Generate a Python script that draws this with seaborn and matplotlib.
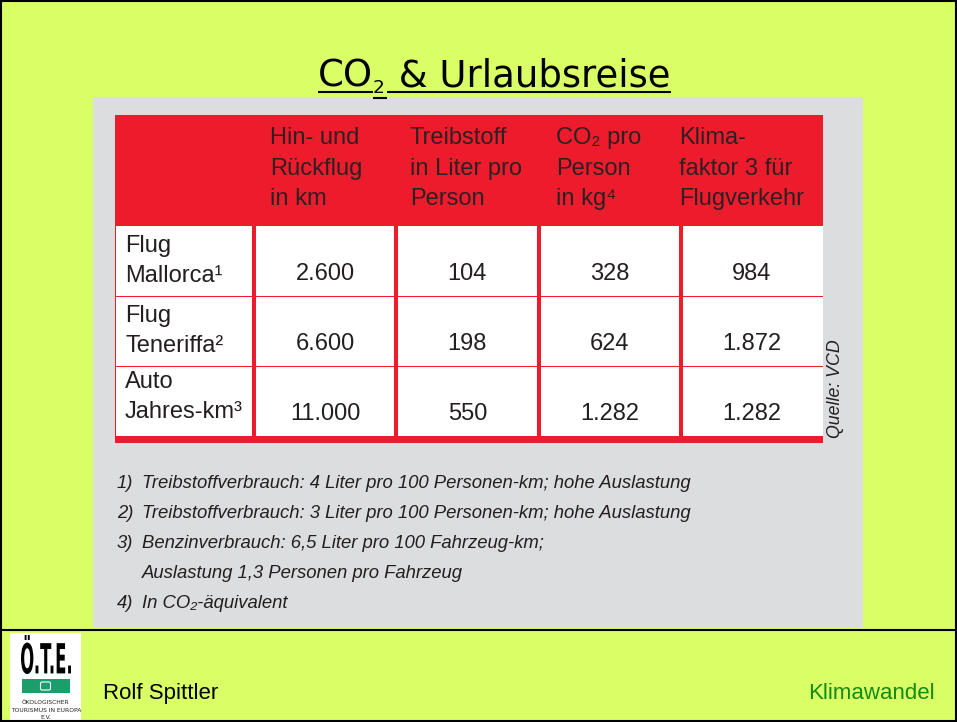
import matplotlib
matplotlib.use("Agg")
import matplotlib.pyplot as plt
import numpy as np
import pandas as pd
import seaborn as sns
from matplotlib.colors import ListedColormap
from matplotlib.patches import Rectangle, PathPatch, FancyBboxPatch
from matplotlib.textpath import TextPath
from matplotlib.font_manager import FontProperties
from matplotlib.transforms import Affine2D

# ---------------- data ----------------
title_parts = ["CO", "2", " & Urlaubsreise"]
col_headers = [
    ["Hin- und", "Rückflug", "in km"],
    ["Treibstoff", "in Liter pro", "Person"],
    ["CO\u2082 pro", "Person", "in kg\u2074"],
    ["Klima-", "faktor 3 für", "Flugverkehr"],
]
row_label_top = ["Flug", "Flug", "Auto"]
row_label_bottom = ["Mallorca\u00b9", "Teneriffa\u00b2", "Jahres-km\u00b3"]
distance_km = [2600, 6600, 11000]
fuel_litre = [104, 198, 550]
co2_kg = [328, 624, 1282]
klima_factor3 = [984, 1872, 1282]
footnote_nums = ["1)", "2)", "3)", "", "4)"]
footnote_texts = [
    "Treibstoffverbrauch: 4 Liter pro 100 Personen-km; hohe Auslastung",
    "Treibstoffverbrauch: 3 Liter pro 100 Personen-km; hohe Auslastung",
    "Benzinverbrauch: 6,5 Liter pro 100 Fahrzeug-km;",
    "Auslastung 1,3 Personen pro Fahrzeug",
    "In CO\u2082-äquivalent",
]
source_text = "Quelle: VCD"
author_text = "Rolf Spittler"
topic_text = "Klimawandel"

# ---------------- style ----------------
sns.set_theme(style="white")
plt.rcParams["font.family"] = ["Liberation Sans", "DejaVu Sans"]

LIME = "#daff66"
GRAY = "#dcddde"
RED = "#ec1c2d"
DARK = "#231f20"
HEAD = "#2e2022"
GREEN = "#148c14"
FAM = ["Liberation Sans", "DejaVu Sans"]

W, H = 957, 722
fig = plt.figure(figsize=(W / 100, H / 100), dpi=100)
fig.patch.set_facecolor(LIME)

bg = fig.add_axes([0, 0, 1, 1])
bg.set_xlim(0, W)
bg.set_ylim(H, 0)
bg.axis("off")

# gray panel and red table base
bg.add_patch(Rectangle((93, 97), 770, 531, fc=GRAY, ec="none"))
bg.add_patch(Rectangle((115, 115), 708, 328, fc=RED, ec="none"))
bg.add_patch(Rectangle((116, 226), 138, 210, fc="white", ec="none"))
for yy in (296, 366):
    bg.plot([116, 254], [yy, yy], color=RED, lw=0.75)

# title (CO + lowered 2 + rest), fitted to reference width
fig.canvas.draw()
r = fig.canvas.get_renderer()


def draw_title(fs):
    x = 318.0
    arts, spans = [], []
    for i, part in enumerate(title_parts):
        sub = (i == 1)
        tt = bg.text(x, 86.7 + (6.3 if sub else 0), part, ha="left", va="baseline",
                     fontsize=fs * (0.5 if sub else 1.0), family=["DejaVu Sans"],
                     color="black")
        w = tt.get_window_extent(r).width
        spans.append((x, x + w, sub))
        arts.append(tt)
        x += w + (2 if sub else 0)
    return arts, spans, x - 318.0


arts, spans, tw = draw_title(26)
for a in arts:
    a.remove()
arts, spans, tw = draw_title(26 * 352 / tw)
for x0_, x1_, sub in spans:
    yy = 97.5 if sub else 91.7
    bg.plot([x0_, x1_ + (2 if sub else 0)], [yy, yy], color="black", lw=1.5,
            solid_capstyle="butt")

# header text
head_x = [270, 410, 556, 679]
head_y = [144.3, 175, 205]
for hx_, lines in zip(head_x, col_headers):
    for yy, line in zip(head_y, lines):
        bg.text(hx_, yy, line, ha="left", va="baseline", fontsize=17,
                color=HEAD, family=FAM)

# row labels
label_base = [281.7, 352, 418]
for top, bot, yb in zip(row_label_top, row_label_bottom, label_base):
    bg.text(125, yb - 30, top, ha="left", va="baseline", fontsize=17, color=DARK, family=FAM)
    bg.text(125, yb, bot, ha="left", va="baseline", fontsize=17, color=DARK, family=FAM)

# body cells as seaborn heatmap
df = pd.DataFrame({"km": distance_km, "liter": fuel_litre,
                   "co2": co2_kg, "klima": klima_factor3})
annot = df.map(lambda v: f"{v:,}".replace(",", ".")).values
hx = fig.add_axes([254 / W, 1 - 436 / H, 569 / W, 210 / H])
sns.heatmap(df, ax=hx, cmap=ListedColormap(["white"]), cbar=False,
            annot=annot, fmt="", xticklabels=False, yticklabels=False,
            annot_kws=dict(fontsize=17, color=DARK, family=FAM))
for s in hx.spines.values():
    s.set_visible(False)
hx.set_xlabel("")
hx.set_ylabel("")
for txt in hx.texts:
    x, y = txt.get_position()
    txt.set_verticalalignment("baseline")
    txt.set_position((x, y + 0.27))
for c in range(df.shape[1]):
    hx.axvline(c, color=RED, lw=2.9, clip_on=False)
for rr in range(1, df.shape[0]):
    hx.axhline(rr, color=RED, lw=0.75)

# source
bg.text(836, 389, source_text, rotation=90, ha="center", va="center",
        fontsize=12.8, style="italic", color=DARK, family=FAM)

# footnotes
for i, (num, txt) in enumerate(zip(footnote_nums, footnote_texts)):
    yy = 488.3 + 30 * i
    if num:
        bg.text(116.7, yy, num, ha="left", va="baseline", fontsize=13.3,
                style="italic", color=DARK, family=FAM)
    bg.text(141.7, yy, txt, ha="left", va="baseline", fontsize=13.3,
            style="italic", color=DARK, family=FAM)

# footer
bg.plot([0, W], [630, 630], color="black", lw=1.5)
bg.text(103.3, 699.3, author_text, ha="left", va="baseline", fontsize=16,
        color="black", family=FAM)
bg.text(935, 699.3, topic_text, ha="right", va="baseline", fontsize=16,
        color=GREEN, family=FAM)

# logo
bg.add_patch(Rectangle((10, 633), 71, 89, fc="white", ec="none"))
tp = TextPath((0, 0), "Ö.T.E.", size=10,
              prop=FontProperties(family="DejaVu Sans", weight="bold"))
ext = tp.get_extents()
x0, x1, ytop, ybot = 21, 71, 635, 674
sx = (x1 - x0) / ext.width
sy = (ybot - ytop) / ext.height
tr = Affine2D().translate(-ext.x0, -ext.y0).scale(sx, -sy).translate(x0, ybot)
bg.add_patch(PathPatch(tr.transform_path(tp), fc="black", lw=0))
bg.add_patch(Rectangle((22, 679), 48, 14, fc="#1c9e6c", ec="none"))
bg.add_patch(FancyBboxPatch((41, 682.5), 9, 7, boxstyle="round,pad=0.5,rounding_size=1.5",
                            fc="none", ec="white", lw=0.8))
for yy, s in zip([702, 710, 717.5], ["ÖKOLOGISCHER", "TOURISMUS IN EUROPA", "E.V."]):
    bg.text(46, yy, s, ha="center", va="center", fontsize=4.3,
            family=["DejaVu Sans"], color=DARK)

# outer frame
bg.add_patch(Rectangle((1, 1), W - 2, H - 2, fill=False, ec="black", lw=1.5))

fig.savefig("out.png", dpi=100, facecolor=fig.get_facecolor())
